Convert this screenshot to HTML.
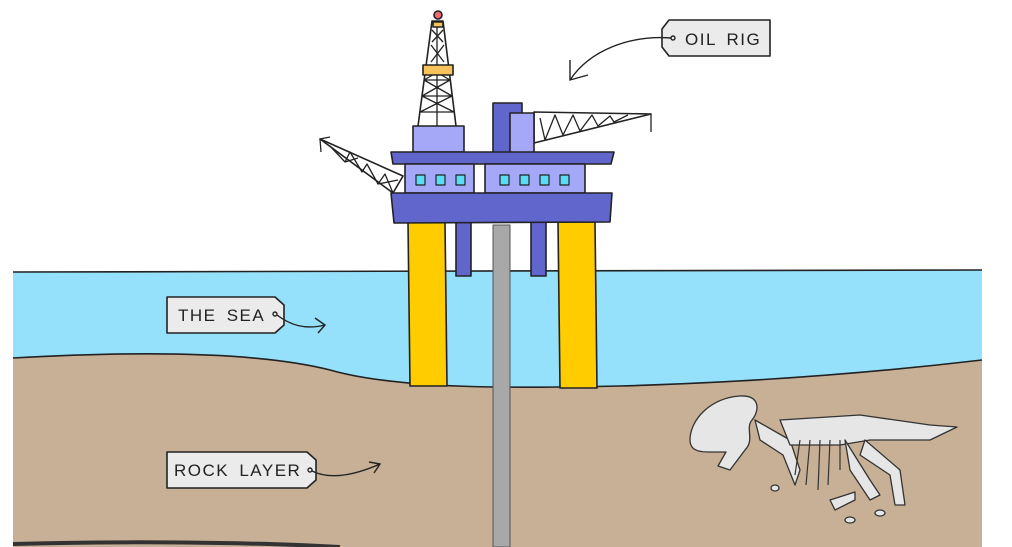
<!DOCTYPE html>
<html><head><meta charset="utf-8"><style>
html,body{margin:0;padding:0;background:#fff;width:1012px;height:547px;overflow:hidden}
svg{display:block}
text{font-family:"Liberation Sans",sans-serif;font-size:17px;fill:#222;letter-spacing:1.5px;word-spacing:4px}
</style></head><body>
<svg width="1012" height="547" viewBox="0 0 1012 547" xmlns="http://www.w3.org/2000/svg">
<g stroke="#222" stroke-width="1.6" stroke-linejoin="round">
<!-- sea -->
<path d="M13 272 L982 270 L982 547 L13 547 Z" fill="#95e0fb" stroke="none"/>
<path d="M13 272 L982 270" fill="none"/>
<!-- rock -->
<path d="M13 358 C120 352 250 350 330 370 C400 390 520 388 620 386 C760 382 880 372 982 360 L982 547 L13 547 Z" fill="#c8b096" stroke="none"/>
<path d="M13 358 C120 352 250 350 330 370 C400 390 520 388 620 386 C760 382 880 372 982 360" fill="none"/>
<path d="M13 544 C120 541 250 542 340 547" stroke="#333" stroke-width="4" fill="none"/>
<!-- pipe -->
<rect x="493" y="225" width="17" height="322" fill="#a8a8a8" stroke="#555" stroke-width="1"/>
<!-- legs -->
<path d="M408 222 L445 222 L447 386 L410 386 Z" fill="#ffcc00"/>
<path d="M558 222 L595 222 L597 388 L560 388 Z" fill="#ffcc00"/>
<rect x="456" y="222" width="15" height="54" fill="#6166cd"/>
<rect x="531" y="222" width="15" height="54" fill="#6166cd"/>
<!-- cranes -->
<path d="M320 139 L403 176 L393 193 Z" fill="none"/>
<path d="M320 139 L330 137 M320 139 L321 152 M330 146 L345 162 L350 152 L362 172 L367 164 L378 184 L385 174 L393 193 M345 162 L358 158 M378 184 L398 180" fill="none" stroke-width="1.3"/>
<path d="M534 112 L651 114 L534 143 Z" fill="none"/>
<path d="M651 114 L651 132 M540 118 L545 140 L555 115 L563 135 L573 115 L580 131 L592 115 L598 126 L610 116 L614 122 L628 115" fill="none" stroke-width="1.3"/>
<!-- derrick -->
<path d="M418 126 L432 21 L443 21 L456 126" fill="none"/>
<path d="M426 66 L448 66 M424 80 L450 80 M422 96 L452 96 M420 112 L454 112 M424 80 L452 96 M450 80 L422 96 M422 96 L454 112 M452 96 L420 112 M426 66 L450 80 M448 66 L424 80 M437 21 L437 126 M432 30 L443 42 M443 30 L432 42 M431 45 L444 62 M444 45 L431 62" fill="none" stroke-width="1.3"/>
<rect x="423" y="65" width="30" height="10" fill="#f8c35a"/>
<rect x="433" y="22" width="10" height="5" fill="#f8c35a"/>
<circle cx="438" cy="15" r="4" fill="#f06a70"/>
<!-- upper blocks -->
<rect x="413" y="126" width="51" height="26" fill="#a5a7f7"/>
<rect x="493" y="103" width="29" height="50" fill="#6166cd"/>
<rect x="510" y="113" width="24" height="40" fill="#a5a7f7"/>
<!-- top deck -->
<path d="M391 152 L614 152 L611 164 L393 164 Z" fill="#6166cd"/>
<rect x="405" y="164" width="69" height="29" fill="#a5a7f7"/>
<rect x="485" y="164" width="100" height="29" fill="#a5a7f7"/>
<g fill="#5adcf4" stroke-width="1.2">
<rect x="416" y="175" width="9" height="10"/><rect x="436" y="175" width="9" height="10"/><rect x="456" y="175" width="9" height="10"/>
<rect x="500" y="175" width="9" height="10"/><rect x="520" y="175" width="9" height="10"/><rect x="540" y="175" width="9" height="10"/><rect x="560" y="175" width="9" height="10"/>
</g>
<path d="M391 193 L612 193 L610 222 L394 223 Z" fill="#6166cd"/>
<!-- dinosaur (simplified) -->
<g fill="#e6e6e6" stroke="#333" stroke-width="1.3">
<path d="M690 440 C690 420 710 398 740 396 C760 395 760 410 752 420 C745 428 755 440 745 450 L730 470 L718 466 L726 452 L708 452 C695 452 690 448 690 440 Z"/>
<path d="M755 420 L790 440 L800 470 L795 485 L783 455 L760 440 Z"/>
<path d="M780 420 L860 415 L930 425 L957 427 L930 440 L870 440 L840 445 L790 445 Z"/>
<path d="M845 440 L870 480 L880 495 L870 500 L850 470 Z"/>
<path d="M865 440 L900 470 L905 505 L895 505 L890 475 L860 455 Z"/>
<path d="M830 500 L855 492 L855 500 L835 510 Z"/>
<ellipse cx="850" cy="520" rx="5" ry="3"/><ellipse cx="880" cy="513" rx="5" ry="3"/><ellipse cx="775" cy="488" rx="4" ry="3"/>
</g>
<g fill="none" stroke="#333" stroke-width="1.2">
<path d="M800 440 L795 475 M810 440 L806 485 M820 440 L818 490 M830 440 L828 485 M840 440 L840 470"/>
</g>
<!-- labels -->
<path d="M167 297 L275 297 L284 305 L284 325 L275 333 L167 333 Z" fill="#ebebeb"/>
<path d="M167 452 L307 452 L316 460 L316 480 L307 488 L167 488 Z" fill="#ebebeb"/>
<path d="M669 20 L770 20 L770 56 L669 56 L662 47 L662 29 Z" fill="#ebebeb"/>
</g>
<g fill="none" stroke="#222" stroke-width="1.4">
<circle cx="275" cy="314" r="2"/>
<path d="M277 315 C290 325 305 330 325 325 M315 318 L325 325 L318 333"/>
<circle cx="310" cy="470" r="2"/>
<path d="M312 471 C330 480 355 475 380 464 M369 462 L380 464 L374 473"/>
<circle cx="673" cy="38" r="2"/>
<path d="M671 38 C630 35 590 50 570 80 M570 60 L570 80 L588 75"/>
</g>
<text x="178" y="321">THE SEA</text>
<text x="174" y="476">ROCK LAYER</text>
<text x="685" y="45">OIL RIG</text>
</svg>
</body></html>
